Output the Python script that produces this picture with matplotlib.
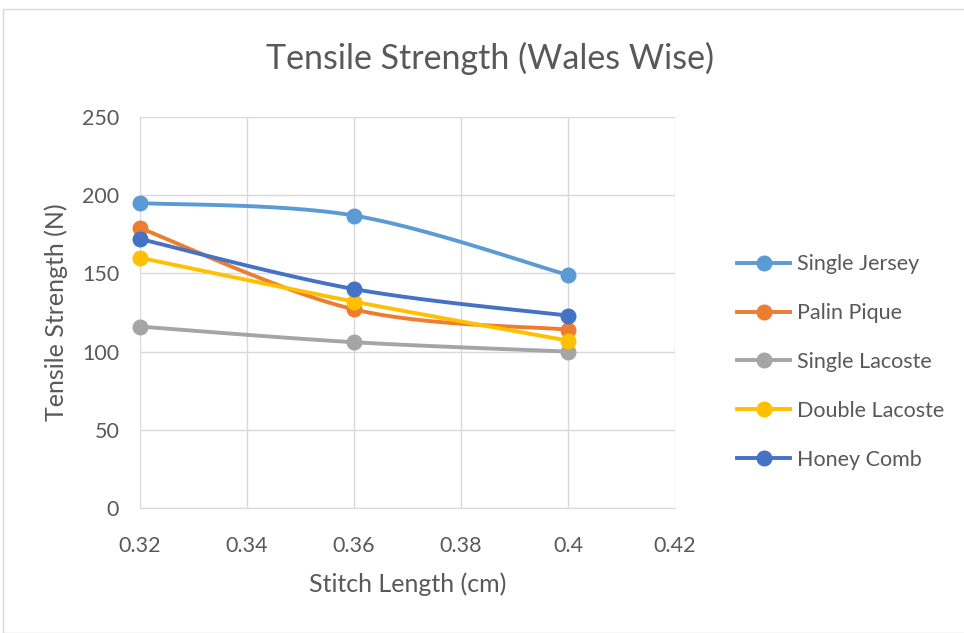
import numpy as np
import matplotlib
matplotlib.use("Agg")
import matplotlib.pyplot as plt
from matplotlib.patches import Rectangle
from matplotlib.lines import Line2D

plt.rcParams['font.family'] = ['Lato', 'DejaVu Sans']

stitch_length = [0.32, 0.36, 0.40]
single_jersey = [195, 187, 149]
palin_pique = [179, 127, 114]
single_lacoste = [116, 106, 100]
double_lacoste = [160, 132, 107]
honey_comb = [172, 140, 123]

series = [
    ("Single Jersey", single_jersey, "#5B9BD5"),
    ("Palin Pique", palin_pique, "#ED7D31"),
    ("Single Lacoste", single_lacoste, "#A5A5A5"),
    ("Double Lacoste", double_lacoste, "#FFC000"),
    ("Honey Comb", honey_comb, "#4472C4"),
]

x_ticks = [0.32, 0.34, 0.36, 0.38, 0.40, 0.42]
x_tick_labels = ["0.32", "0.34", "0.36", "0.38", "0.4", "0.42"]
y_ticks = [0, 50, 100, 150, 200, 250]


def smooth_curve(xs, ys, steps=40):
    """Cubic Bezier segments through the points (spreadsheet-style smoothing)."""
    xs = np.asarray(xs, float)
    ys = np.asarray(ys, float)
    pts = np.column_stack([xs, ys])
    n = len(pts)
    out = [pts[0]]
    for i in range(n - 1):
        p0 = pts[i - 1] if i > 0 else pts[i]
        p1 = pts[i]
        p2 = pts[i + 1]
        p3 = pts[i + 2] if i + 2 < n else pts[i + 1]
        c1 = p1 + (p2 - p0) / 6.0
        c2 = p2 - (p3 - p1) / 6.0
        t = np.linspace(0, 1, steps)[1:, None]
        seg = ((1 - t) ** 3) * p1 + 3 * ((1 - t) ** 2) * t * c1 + 3 * (1 - t) * t ** 2 * c2 + t ** 3 * p2
        out.extend(seg)
    out = np.array(out)
    return out[:, 0], out[:, 1]


fig = plt.figure(figsize=(9.64, 6.33), dpi=100)
fig.patches.append(Rectangle((3 / 964, 0), 1.0, 1 - 9 / 633, transform=fig.transFigure,
                             fill=False, edgecolor="#D9D9D9", linewidth=1.0))

ax = fig.add_axes([140 / 964, 1 - 508 / 633, (675 - 140) / 964, (508 - 117) / 633])

for name, vals, color in series:
    sx, sy = smooth_curve(stitch_length, vals)
    ax.plot(sx, sy, color=color, linewidth=2.8, solid_capstyle="round", zorder=3,
            clip_on=False)
    ax.plot(stitch_length, vals, linestyle="none", marker="o", markersize=10.5,
            color=color, zorder=4, clip_on=False)

ax.set_xlim(0.32, 0.42)
ax.set_ylim(0, 250)
ax.set_xticks(x_ticks)
ax.set_xticklabels(x_tick_labels)
ax.set_yticks(y_ticks)
ax.grid(True, color="#D9D9D9", linewidth=1.0)
ax.set_axisbelow(True)
for s in ["top", "right", "left"]:
    ax.spines[s].set_visible(False)
ax.spines["bottom"].set_color("#D9D9D9")
ax.tick_params(axis="both", length=0, labelsize=15.5, labelcolor="#595959")
ax.tick_params(axis="x", pad=20)
ax.tick_params(axis="y", pad=15)

ax.set_xlabel("Stitch Length (cm)", fontsize=18, color="#595959", labelpad=12)
ax.set_ylabel("Tensile Strength (N)", fontsize=18, color="#595959", labelpad=10)

fig.text(490 / 964, 1 - 58 / 633, "Tensile Strength (Wales Wise)", fontsize=24.5,
         color="#595959", ha="center", va="center")

handles = [Line2D([0], [0], color=c, linewidth=2.8, marker="o", markersize=10.5)
           for _, _, c in series]
labels = [n for n, _, _ in series]
leg = fig.legend(handles, labels, loc="center left", bbox_to_anchor=(718 / 964, 1 - 362 / 633),
                 frameon=False, fontsize=15.5, labelspacing=1.34, handlelength=2.45,
                 handletextpad=0.3)
for t in leg.get_texts():
    t.set_color("#595959")

fig.savefig("out.png", dpi=100)
